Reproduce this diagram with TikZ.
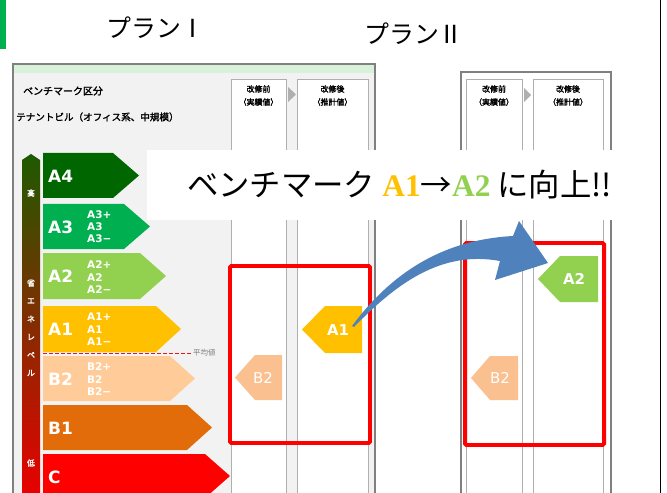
\documentclass[tikz,border=0pt]{standalone}
\usepackage{fontspec}
\setmainfont{DejaVu Sans}
\newfontfamily\cjk{Noto Sans CJK JP}
\newfontfamily\cjkb{Noto Sans CJK JP}[FakeBold=2]
\newfontfamily\dv{DejaVu Sans}
\newfontfamily\lserif{Liberation Serif}
\definecolor{cA4}{RGB}{0,102,0}
\definecolor{cA3}{RGB}{0,176,80}
\definecolor{cA2}{RGB}{146,208,80}
\definecolor{cA1}{RGB}{255,192,0}
\definecolor{cB2}{RGB}{255,204,153}
\definecolor{cB2m}{RGB}{250,192,143}
\definecolor{cB1}{RGB}{226,107,10}
\definecolor{cC}{RGB}{255,0,0}
\definecolor{dashred}{RGB}{240,20,20}
\definecolor{panelgray}{RGB}{242,242,242}
\definecolor{stripgreen}{RGB}{216,241,216}
\definecolor{framegray}{RGB}{128,128,128}
\definecolor{colline}{RGB}{175,175,175}
\definecolor{arrowblue}{RGB}{79,129,189}
\definecolor{titlegreen}{RGB}{0,176,80}
\definecolor{gTop}{RGB}{30,90,0}
\definecolor{gMid}{RGB}{115,48,0}
\definecolor{gBot}{RGB}{232,0,0}
\tikzset{
  big/.style={text=white, inner sep=0pt, anchor=west, font=\dv\bfseries\fontsize{17}{17}\selectfont},
  small/.style={text=white, inner sep=0pt, anchor=west, font=\dv\bfseries\fontsize{10.5}{10.5}\selectfont},
  vtxt/.style={text=white, inner sep=0pt, font=\cjkb\fontsize{8}{8}\selectfont},
  hdr/.style={inner sep=0pt, font=\cjkb\fontsize{8}{8}\selectfont},
  mk/.style={text=white, inner sep=0pt, font=\dv\bfseries\fontsize{15}{15}\selectfont},
  mkthin/.style={text=white, inner sep=0pt, font=\dv\fontsize{15}{15}\selectfont},
  title/.style={inner sep=0pt, font=\cjk\fontsize{25}{25}\selectfont},
  col/.style={draw=colline, fill=white, line width=0.8},
  redbox/.style={draw=red, line width=4, rounded corners=1.5},
}
\begin{document}
\begin{tikzpicture}[x=1bp,y=-1bp]
\useasboundingbox (0,0) rectangle (667,493);
\clip (0,0) rectangle (667,493);
\fill[white] (0,0) rectangle (667,493);
% green mark
\fill[titlegreen] (0,0) rectangle (6,49);
% right black line
\draw[black, line width=1.7] (660.5,0) -- (660.5,493);
% titles
\node[title] (t1) at (156,28) {プランⅠ};
\node[title] (t2) at (414,34) {プランⅡ};

% ---------- Plan I panel ----------
\fill[panelgray] (13,64) rectangle (375,493);
\fill[stripgreen] (13,64) rectangle (375,73);
\draw[framegray, line width=1.5] (13,493) -- (13,64) -- (375,64) -- (375,493);
\node[inner sep=0pt, anchor=west, font=\cjkb\fontsize{10}{10}\selectfont] (bk) at (23,91) {ベンチマーク区分};
\node[inner sep=0pt, anchor=west, font=\cjkb\fontsize{9.6}{9.6}\selectfont] (tn) at (16,117) {テナントビル（オフィス系、中規模）};
\draw[col] (231,79) rectangle (286,500);
\draw[col] (297,79) rectangle (368,500);
\fill[colline] (288,87) -- (296,94.5) -- (288,102) -- cycle;
\node[hdr] (h1a) at (258.5,89) {改修前};
\node[hdr] (h1b) at (258.5,102) {（実績値）};
\node[hdr] (h2a) at (332.5,89) {改修後};
\node[hdr] (h2b) at (332.5,102) {（推計値）};

% vertical level bar
\shade[top color=gTop, middle color=gMid, bottom color=gBot] (22,160) -- (31,154) -- (40,160) -- (40,493) -- (22,493) -- cycle;
\node[vtxt] (v1) at (31,193) {高};
\node[vtxt] (v2) at (31,283) {省};
\node[vtxt] (v3) at (31,301) {エ};
\node[vtxt] (v4) at (31,319) {ネ};
\node[vtxt] (v5) at (31,337) {レ};
\node[vtxt] (v6) at (31,355) {ベ};
\node[vtxt] (v7) at (31,373) {ル};
\node[vtxt] (v8) at (31,463) {低};

% level bars
\fill[cA4] (43,153) -- (113,153) -- (139,175.5) -- (113,198) -- (43,198) -- cycle;
\fill[cA3] (43,204) -- (124,204) -- (150,226.5) -- (124,249) -- (43,249) -- cycle;
\fill[cA2] (43,253) -- (140,253) -- (166,276) -- (140,299) -- (43,299) -- cycle;
\fill[cA1] (43,306) -- (156,306) -- (181,329) -- (156,352) -- (43,352) -- cycle;
\fill[cB2] (43,356) -- (170,356) -- (195,378.5) -- (170,401) -- (43,401) -- cycle;
\fill[cB1] (43,405) -- (187,405) -- (212,427.5) -- (187,450) -- (43,450) -- cycle;
\fill[cC] (43,454) -- (205,454) -- (230,476) -- (205,498) -- (43,498) -- cycle;
\node[big] (lA4) at (48,176) {A4};
\node[big] (lA3) at (48,227) {A3};
\node[big] (lA2) at (48,276.5) {A2};
\node[big] (lA1) at (48,329) {A1};
\node[big] (lB2) at (48,379) {B2};
\node[big] (lB1) at (48,428) {B1};
\node[big] (lC) at (48,477) {C};
\node[small] (sA3a) at (87,215) {A3+};
\node[small] (sA3b) at (87,227) {A3};
\node[small] (sA3c) at (87,239) {A3−};
\node[small] (sA2a) at (87,265) {A2+};
\node[small] (sA2b) at (87,277.5) {A2};
\node[small] (sA2c) at (87,290) {A2−};
\node[small] (sA1a) at (87,317) {A1+};
\node[small] (sA1b) at (87,329.5) {A1};
\node[small] (sA1c) at (87,342) {A1−};
\node[small] (sB2a) at (87,367) {B2+};
\node[small] (sB2b) at (87,379.5) {B2};
\node[small] (sB2c) at (87,392) {B2−};
% dashed average line, drawn as red dashes
\foreach \dx in {43,49,...,187}{
  \fill[dashred] (\dx,352.6) rectangle ++(4,1.8);
}
\node[inner sep=0pt, anchor=west, text=gray, font=\cjk\fontsize{7.5}{7.5}\selectfont] (avg) at (193,353) {平均値};

% markers plan I
\fill[cA1] (302,329.5) -- (325,306) -- (362,306) -- (362,353) -- (325,353) -- cycle;
\node[mk] (mA1) at (338,330) {A1};
\fill[cB2m] (235,377.5) -- (255,355) -- (282,355) -- (282,400) -- (255,400) -- cycle;
\node[mkthin] (mB2a) at (263,377.5) {B2};
\draw[redbox] (230,266) rectangle (370,443);

% ---------- Plan II panel ----------
\draw[framegray, line width=1.2] (461,500) -- (461,72) -- (611,72) -- (611,500);
\draw[col] (466,79) rectangle (522,500);
\draw[col] (533,79) rectangle (603,500);
\fill[colline] (524,88) -- (531,95) -- (524,102) -- cycle;
\node[hdr] (p2a) at (494,89) {改修前};
\node[hdr] (p2b) at (494,102) {（実績値）};
\node[hdr] (p2c) at (568,89) {改修後};
\node[hdr] (p2d) at (568,102) {（推計値）};
\fill[cA2] (538,279) -- (560,256) -- (598,256) -- (598,302) -- (560,302) -- cycle;
\node[mk] (mA2) at (574,279) {A2};
\fill[cB2m] (471,378) -- (490,356) -- (518,356) -- (518,400) -- (490,400) -- cycle;
\node[mkthin] (mB2b) at (500,378) {B2};
\draw[redbox] (465,243) rectangle (604,445);

% blue arrow
\fill[arrowblue] (352,326) .. controls (390,275) and (440,240) .. (513,236) -- (519,221) -- (548,263) -- (495,280) -- (500,261) .. controls (440,250) and (395,285) .. (354,327) -- cycle;

% callout
\node[fill=white, minimum width=505bp, minimum height=70bp, inner sep=0pt,
      font=\cjk\fontsize{31.5}{31.5}\selectfont] (call) at (399.5,185)
  {ベンチマーク {\lserif\bfseries\color{cA1}A1}→{\lserif\bfseries\color{cA2}A2} に向上!!};
\end{tikzpicture}
\end{document}
